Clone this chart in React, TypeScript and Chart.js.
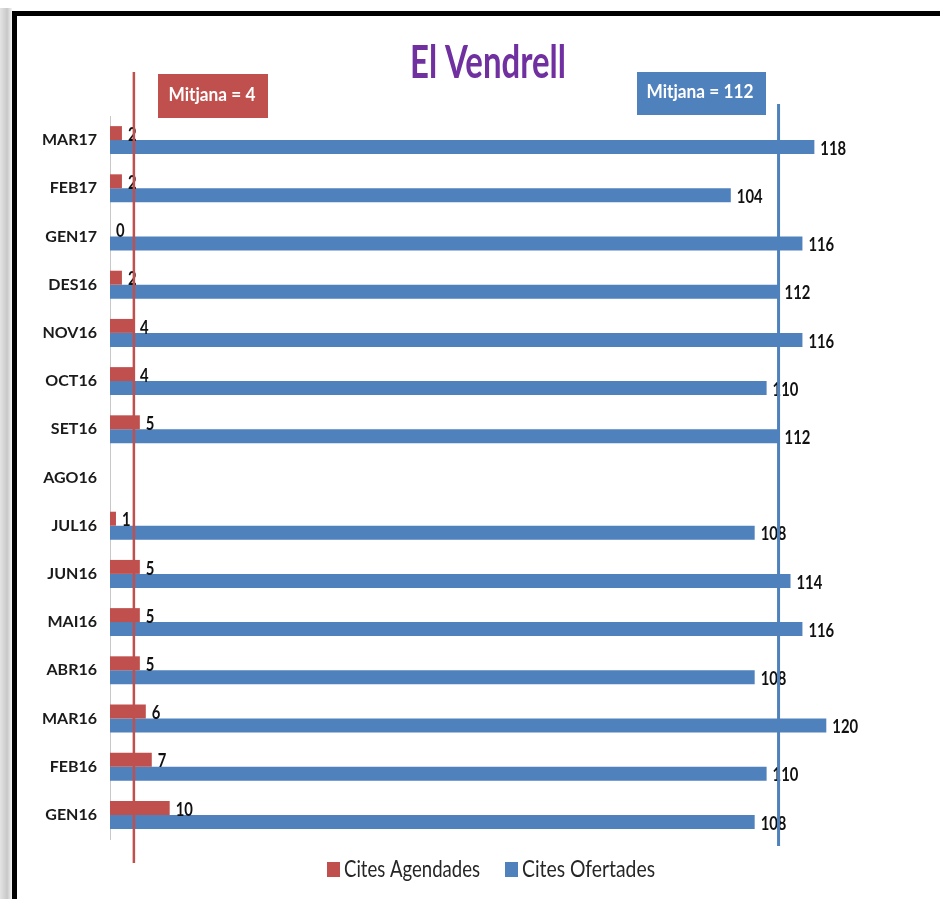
import React, { useEffect, useRef } from "react";
import { Chart, registerables } from "chart.js";

Chart.register(...registerables);

const categories = ["MAR17", "FEB17", "GEN17", "DES16", "NOV16", "OCT16", "SET16", "AGO16", "JUL16", "JUN16", "MAI16", "ABR16", "MAR16", "FEB16", "GEN16"];
const agendades = [2, 2, 0, 2, 4, 4, 5, null, 1, 5, 5, 5, 6, 7, 10];
const ofertades = [118, 104, 116, 112, 116, 110, 112, null, 108, 114, 116, 108, 120, 110, 108];
const seriesNames = ["Cites Agendades", "Cites Ofertades"];
const meanAgendades = 4;
const meanOfertades = 112;
const titleText = "El Vendrell";

const RED = "#C0504D";
const BLUE = "#4F81BD";
const FONT = 'Lato, "Open Sans", sans-serif';

function drawFit(ctx: any, text: string, x: number, y: number, font: string, targetW: number | null, sx: number, align: string) {
  ctx.save();
  ctx.font = font;
  let s = sx;
  if (targetW) {
    const w = ctx.measureText(text).width;
    s = targetW / w;
  }
  ctx.translate(x, y);
  ctx.scale(s, 1);
  ctx.textAlign = align;
  ctx.textBaseline = "middle";
  ctx.fillText(text, 0, 0);
  ctx.restore();
}

const decorPlugin = {
  id: "decor",
  beforeDraw(chart: any) {
    const ctx = chart.ctx;
    const W = chart.width;
    const H = chart.height;
    ctx.save();
    ctx.fillStyle = "#ffffff";
    ctx.fillRect(0, 0, W, H);
    const g = ctx.createLinearGradient(0, 0, 12, 0);
    g.addColorStop(0, "#e4e4e4");
    g.addColorStop(0.6, "#c8c8c8");
    g.addColorStop(1, "#f4f4f4");
    ctx.fillStyle = g;
    ctx.fillRect(0, 8, 12, H - 8);
    ctx.fillStyle = "#000000";
    ctx.fillRect(12, 11, W - 12, 5);
    ctx.fillRect(12, 11, 5, H - 11);
    ctx.fillStyle = "#7030A0";
    drawFit(ctx, titleText, 488, 63, "bold 46px " + FONT, 156, 1, "center");
    ctx.restore();
  },
  afterDatasetsDraw(chart: any) {
    const ctx = chart.ctx;
    const xs = chart.scales.x;
    ctx.save();
    // value labels
    ctx.fillStyle = "#111111";
    chart.data.datasets.forEach((ds: any, i: number) => {
      const meta = chart.getDatasetMeta(i);
      meta.data.forEach((el: any, j: number) => {
        const v = ds.data[j];
        if (v === null || v === undefined) return;
        drawFit(ctx, String(v), el.x + 6, el.y + 1.5, "bold 19px " + FONT, null, 0.78, "left");
      });
    });
    // mean lines
    const xr = xs.getPixelForValue(meanAgendades);
    ctx.strokeStyle = RED;
    ctx.lineWidth = 2.5;
    ctx.beginPath();
    ctx.moveTo(xr, 72);
    ctx.lineTo(xr, 863);
    ctx.stroke();
    const xb = xs.getPixelForValue(meanOfertades);
    ctx.strokeStyle = BLUE;
    ctx.lineWidth = 3;
    ctx.beginPath();
    ctx.moveTo(xb, 104);
    ctx.lineTo(xb, 846);
    ctx.stroke();
    // mean boxes
    ctx.fillStyle = RED;
    ctx.fillRect(158, 74, 110, 44);
    ctx.fillStyle = "#ffffff";
    drawFit(ctx, "Mitjana = " + meanAgendades, 212, 95, "bold 19px " + FONT, 87, 1, "center");
    ctx.fillStyle = BLUE;
    ctx.fillRect(637, 72, 129, 43);
    ctx.fillStyle = "#ffffff";
    drawFit(ctx, "Mitjana = " + meanOfertades, 700, 92, "bold 19px " + FONT, 107, 1, "center");
    // legend
    ctx.fillStyle = RED;
    ctx.fillRect(327, 862, 13, 15);
    ctx.fillStyle = "#262626";
    drawFit(ctx, seriesNames[0], 344, 870, "23px " + FONT, 136, 1, "left");
    ctx.fillStyle = BLUE;
    ctx.fillRect(505, 862, 13, 15);
    ctx.fillStyle = "#262626";
    drawFit(ctx, seriesNames[1], 522, 870, "23px " + FONT, 133, 1, "left");
    ctx.restore();
  },
};

export default function App() {
  const ref = useRef<HTMLCanvasElement | null>(null);
  useEffect(() => {
    document.body.style.margin = "0";
    if (!ref.current) return;
    const chart = new Chart(ref.current, {
      type: "bar",
      data: {
        labels: categories,
        datasets: [
          { label: seriesNames[0], data: agendades, backgroundColor: RED, borderWidth: 0 },
          { label: seriesNames[1], data: ofertades, backgroundColor: BLUE, borderWidth: 0 },
        ],
      },
      options: {
        indexAxis: "y",
        animation: false,
        responsive: true,
        maintainAspectRatio: false,
        datasets: { bar: { categoryPercentage: 0.58, barPercentage: 1.0 } },
        layout: { padding: { left: 0, right: 54, top: 116, bottom: 60 } },
        plugins: { legend: { display: false }, title: { display: false }, tooltip: { enabled: false } },
        scales: {
          x: { display: false, min: 0, max: 130 },
          y: {
            grid: { display: false, drawTicks: false },
            border: { display: true, color: "#c8c8c8", width: 1 },
            ticks: { padding: 13, color: "#1a1a1a", font: { family: FONT, size: 16, weight: "bold" } },
            afterFit: (scale: any) => { scale.width = 110; },
          },
        },
      },
      plugins: [decorPlugin],
    } as any);
    return () => chart.destroy();
  }, []);
  return (
    <div style={{ width: 940, height: 899, position: "relative" }}>
      <canvas ref={ref} />
    </div>
  );
}
